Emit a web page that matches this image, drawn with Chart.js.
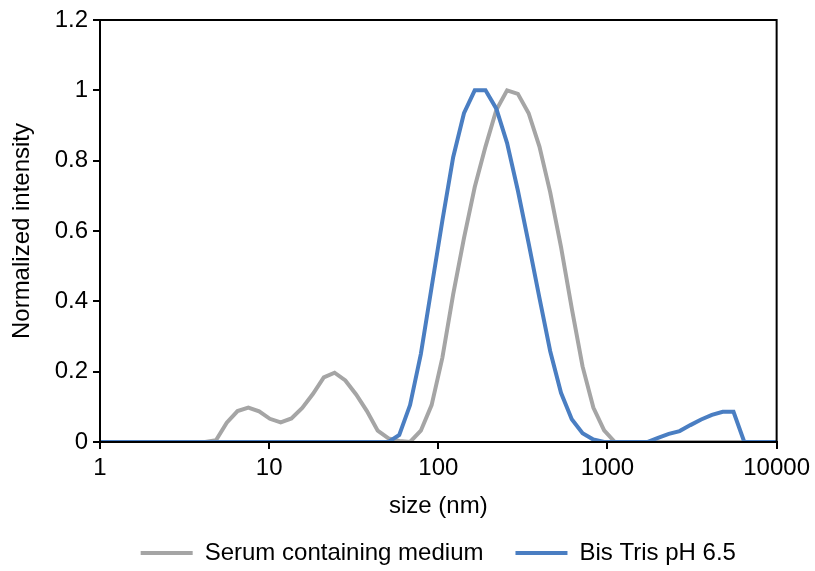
<!DOCTYPE html>
<html lang="en">
<head>
  <meta charset="UTF-8" />
  <title>Size distribution</title>
  <script src="https://cdn.jsdelivr.net/npm/chart.js"></script>
  <style>
    html, body {
      margin: 0;
      padding: 0;
      background: #ffffff;
    }
    #wrap {
      width: 815px;
      height: 571px;
    }
  </style>
</head>
<body>
  <div id="wrap"><canvas id="dlsChart" width="815" height="571"></canvas></div>

  <script>
    // size bins (nm)
    const sizes = [
      0.4, 0.4632, 0.5365, 0.6213, 0.7195, 0.8332, 0.9649, 1.117, 1.294, 1.499,
      1.736, 2.010, 2.328, 2.696, 3.122, 3.615, 4.187, 4.849, 5.615, 6.503,
      7.531, 8.721, 10.10, 11.70, 13.54, 15.69, 18.17, 21.04, 24.36, 28.21,
      32.67, 37.84, 43.82, 50.75, 58.77, 68.06, 78.82, 91.28, 105.7, 122.4,
      141.8, 164.2, 190.1, 220.2, 255.0, 295.3, 342.0, 396.1, 458.7, 531.2,
      615.1, 712.4, 825.0, 955.4, 1106, 1281, 1484, 1718, 1990, 2305,
      2669, 3091, 3580, 4145, 4801, 5560, 6439, 7456, 8635, 10000
    ];

    const serumMedium = [
      0, 0, 0, 0, 0, 0, 0, 0, 0, 0,
      0, 0, 0, 0, 0, 0, 0, 0.005, 0.055, 0.088,
      0.098, 0.087, 0.066, 0.056, 0.067, 0.097, 0.137, 0.184, 0.197, 0.175,
      0.135, 0.088, 0.032, 0.01, 0.003, 0, 0.032, 0.105, 0.24, 0.42,
      0.58, 0.725, 0.84, 0.944, 1.0, 0.99, 0.935, 0.84, 0.71, 0.555,
      0.38, 0.215, 0.098, 0.033, 0, 0, 0, 0, 0, 0,
      0, 0, 0, 0, 0, 0, 0, 0, 0, 0
    ];

    const bisTris = [
      0, 0, 0, 0, 0, 0, 0, 0, 0, 0,
      0, 0, 0, 0, 0, 0, 0, 0, 0, 0,
      0, 0, 0, 0, 0, 0, 0, 0, 0, 0,
      0, 0, 0, 0, 0.02, 0.105, 0.25, 0.44, 0.63, 0.81,
      0.935, 1.0, 1.0, 0.948, 0.85, 0.715, 0.565, 0.41, 0.258, 0.14,
      0.065, 0.025, 0.007, 0, 0, 0, 0, 0, 0.012, 0.023,
      0.031, 0.048, 0.064, 0.077, 0.086, 0.086, 0, 0, 0, 0
    ];

    const seriesNames = ["Serum containing medium", "Bis Tris pH 6.5"];
    const xTicks = [1, 10, 100, 1000, 10000];
    const yTicks = [0, 0.2, 0.4, 0.6, 0.8, 1, 1.2];

    const font = "'Liberation Sans', Arial, sans-serif";
    const fontSize = 24;

    function toPoints(values) {
      return sizes.map((s, i) => ({ x: s, y: values[i] }));
    }

    // black frame round the plot area
    const frame = {
      id: "frame",
      afterDatasetsDraw(chart) {
        const a = chart.chartArea;
        const ctx = chart.ctx;
        ctx.save();
        ctx.strokeStyle = "#000";
        ctx.lineWidth = 2;
        ctx.strokeRect(a.left, a.top, a.right - a.left, a.bottom - a.top);
        ctx.restore();
      }
    };

    new Chart(document.getElementById("dlsChart"), {
      type: "line",
      data: {
        datasets: [
          {
            label: seriesNames[0],
            data: toPoints(serumMedium),
            borderColor: "#A5A5A5",
            backgroundColor: "#A5A5A5",
            borderWidth: 4,
            pointRadius: 0,
            tension: 0,
            order: 1
          },
          {
            label: seriesNames[1],
            data: toPoints(bisTris),
            borderColor: "#4A7EC2",
            backgroundColor: "#4A7EC2",
            borderWidth: 4,
            pointRadius: 0,
            tension: 0,
            order: 0
          }
        ]
      },
      options: {
        responsive: false,
        animation: false,
        layout: {
          padding: { left: 0, right: 37, top: 20, bottom: -4 }
        },
        plugins: {
          tooltip: { enabled: false },
          legend: {
            position: "bottom",
            fullSize: false,
            labels: {
              usePointStyle: true,
              pointStyle: "line",
              pointStyleWidth: 52,
              padding: 32,
              color: "#000",
              font: { family: font, size: fontSize },
              sort: (a, b) => a.datasetIndex - b.datasetIndex
            }
          }
        },
        scales: {
          x: {
            type: "logarithmic",
            min: 1,
            max: 10000,
            afterBuildTicks: (s) => { s.ticks = xTicks.map(v => ({ value: v })); },
            afterFit: (s) => { s.height = 67; },
            border: { display: true, color: "#000", width: 2 },
            grid: { drawOnChartArea: false, drawTicks: true, tickLength: 7, color: "#000", lineWidth: 2 },
            ticks: {
              color: "#000",
              padding: 5,
              maxRotation: 0,
              font: { family: font, size: fontSize },
              callback: (v) => String(v)
            },
            title: {
              display: true,
              text: "size (nm)",
              color: "#000",
              padding: { top: 0, bottom: -12 },
              font: { family: font, size: fontSize }
            }
          },
          y: {
            min: 0,
            max: 1.2,
            afterBuildTicks: (s) => { s.ticks = yTicks.map(v => ({ value: v })); },
            afterFit: (s) => { s.width = 100; },
            border: { display: true, color: "#000", width: 2 },
            grid: { drawOnChartArea: false, drawTicks: true, tickLength: 7, color: "#000", lineWidth: 2 },
            ticks: {
              color: "#000",
              padding: 5,
              font: { family: font, size: fontSize },
              callback: (v) => String(Math.round(v * 10) / 10)
            },
            title: {
              display: true,
              text: "Normalized intensity",
              color: "#000",
              padding: { top: 8, bottom: 0 },
              font: { family: font, size: fontSize }
            }
          }
        }
      },
      plugins: [frame]
    });
  </script>
</body>
</html>
